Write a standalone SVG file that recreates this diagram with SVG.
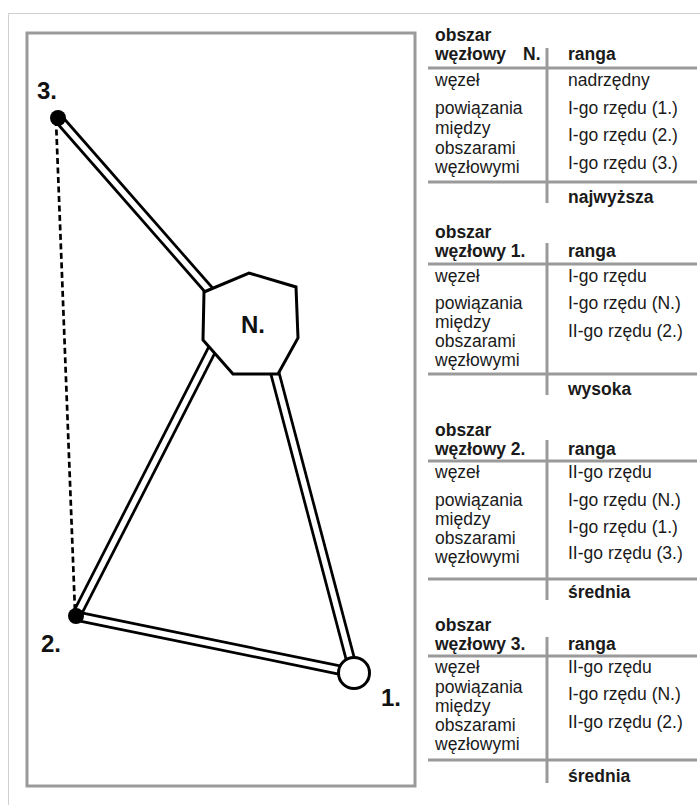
<svg xmlns="http://www.w3.org/2000/svg" width="700" height="805" viewBox="0 0 700 805">
<defs>
<style>
.frame{fill:none;stroke:#cfcfcf;stroke-width:1}
.box{fill:#fff;stroke:#9a9a9a;stroke-width:3}
.roadO{stroke:#000;stroke-width:11;fill:none;stroke-linecap:butt}
.roadI{stroke:#fff;stroke-width:5.5;fill:none;stroke-linecap:butt}
.dash{stroke:#000;stroke-width:2.7;fill:none;stroke-dasharray:6 3.5}
.lbl{font-family:"Liberation Sans",Arial,sans-serif;font-weight:bold;font-size:24px;fill:#111}
.t{font-family:"Liberation Sans",Arial,sans-serif;font-size:17.5px;fill:#1a1a1a}
.b{font-weight:bold}
.rule{stroke:#9a9a9a;stroke-width:3;fill:none}
</style>
</defs>
<rect width="700" height="805" fill="#fff"/>
<path class="frame" d="M8.5,805 V13.5 H700"/>
<rect class="box" x="27" y="33" width="388" height="753"/>

<g id="connectors">
<line class="dash" x1="56" y1="120" x2="75" y2="612"/>
<line class="roadO" x1="58" y1="118" x2="222" y2="305"/>
<line class="roadI" x1="58" y1="118" x2="222" y2="305"/>
<line class="roadO" x1="222" y1="330" x2="76" y2="616"/>
<line class="roadI" x1="222" y1="330" x2="76" y2="616"/>
<line class="roadO" x1="268" y1="347" x2="354" y2="673"/>
<line class="roadI" x1="268" y1="347" x2="354" y2="673"/>
<line class="roadO" x1="76" y1="616" x2="354" y2="673"/>
<line class="roadI" x1="76" y1="616" x2="354" y2="673"/>
</g>

<g id="nodeN">
<polygon points="204,292 249,273 296,287 298,338 278,374 233,374 203,340" fill="#fff" stroke="#000" stroke-width="3" stroke-linejoin="miter"/>
<text class="lbl" x="241" y="333">N.</text>
</g>
<g id="node3">
<circle cx="58" cy="118" r="8" fill="#000"/>
<text class="lbl" x="37" y="99">3.</text>
</g>
<g id="node2">
<circle cx="76" cy="616" r="8" fill="#000"/>
<text class="lbl" x="41" y="652">2.</text>
</g>
<g id="node1">
<circle cx="354" cy="673" r="15.5" fill="#fff" stroke="#000" stroke-width="3"/>
<text class="lbl" x="381" y="706">1.</text>
</g>

<g id="tableN">
<line class="rule" x1="428" y1="68" x2="697" y2="68"/>
<line class="rule" x1="428" y1="182" x2="697" y2="182"/>
<line class="rule" x1="547" y1="48" x2="547" y2="203"/>
<text class="t b" x="435" y="41">obszar</text>
<text class="t b" x="435" y="60">węzłowy<tspan x="523">N.</tspan></text>
<text class="t b" x="568" y="60">ranga</text>
<text class="t" x="435" y="86">węzeł</text>
<text class="t" x="568" y="86">nadrzędny</text>
<text class="t" x="435" y="114">powiązania</text>
<text class="t" x="435" y="134">między</text>
<text class="t" x="435" y="154">obszarami</text>
<text class="t" x="435" y="173">węzłowymi</text>
<text class="t" x="568" y="114">I-go rzędu (1.)</text>
<text class="t" x="568" y="141">I-go rzędu (2.)</text>
<text class="t" x="568" y="169">I-go rzędu (3.)</text>
<text class="t b" x="568" y="203">najwyższa</text>
</g>

<g id="table1">
<line class="rule" x1="428" y1="264" x2="697" y2="264"/>
<line class="rule" x1="428" y1="374" x2="697" y2="374"/>
<line class="rule" x1="547" y1="243" x2="547" y2="395"/>
<text class="t b" x="435" y="238">obszar</text>
<text class="t b" x="435" y="257">węzłowy 1.</text>
<text class="t b" x="568" y="257">ranga</text>
<text class="t" x="435" y="282">węzeł</text>
<text class="t" x="568" y="282">I-go rzędu</text>
<text class="t" x="435" y="309">powiązania</text>
<text class="t" x="435" y="328">między</text>
<text class="t" x="435" y="347">obszarami</text>
<text class="t" x="435" y="366">węzłowymi</text>
<text class="t" x="568" y="309">I-go rzędu (N.)</text>
<text class="t" x="568" y="337">II-go rzędu (2.)</text>
<text class="t b" x="568" y="395">wysoka</text>
</g>

<g id="table2">
<line class="rule" x1="428" y1="461" x2="697" y2="461"/>
<line class="rule" x1="428" y1="579" x2="697" y2="579"/>
<line class="rule" x1="547" y1="440" x2="547" y2="600"/>
<text class="t b" x="435" y="436">obszar</text>
<text class="t b" x="435" y="455">węzłowy 2.</text>
<text class="t b" x="568" y="455">ranga</text>
<text class="t" x="435" y="478">węzeł</text>
<text class="t" x="568" y="478">II-go rzędu</text>
<text class="t" x="435" y="506">powiązania</text>
<text class="t" x="435" y="525">między</text>
<text class="t" x="435" y="544">obszarami</text>
<text class="t" x="435" y="563">węzłowymi</text>
<text class="t" x="568" y="506">I-go rzędu (N.)</text>
<text class="t" x="568" y="533">I-go rzędu (1.)</text>
<text class="t" x="568" y="559">II-go rzędu (3.)</text>
<text class="t b" x="568" y="598">średnia</text>
</g>

<g id="table3">
<line class="rule" x1="428" y1="656" x2="697" y2="656"/>
<line class="rule" x1="428" y1="760" x2="697" y2="760"/>
<line class="rule" x1="547" y1="637" x2="547" y2="783"/>
<text class="t b" x="435" y="631">obszar</text>
<text class="t b" x="435" y="650">węzłowy 3.</text>
<text class="t b" x="568" y="650">ranga</text>
<text class="t" x="435" y="673">węzeł</text>
<text class="t" x="568" y="673">II-go rzędu</text>
<text class="t" x="435" y="693">powiązania</text>
<text class="t" x="435" y="712">między</text>
<text class="t" x="435" y="731">obszarami</text>
<text class="t" x="435" y="750">węzłowymi</text>
<text class="t" x="568" y="700">I-go rzędu (N.)</text>
<text class="t" x="568" y="728">II-go rzędu (2.)</text>
<text class="t b" x="568" y="782">średnia</text>
</g>
</svg>
